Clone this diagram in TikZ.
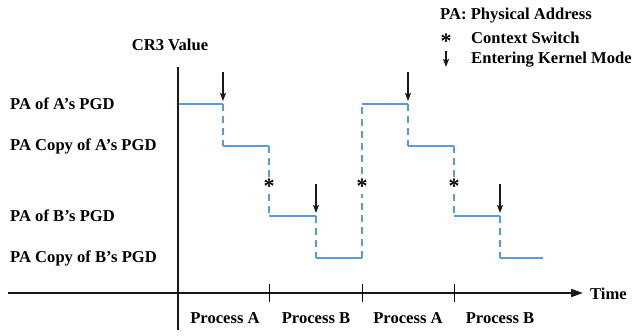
\documentclass[tikz,border=0pt]{standalone}
\usepackage{fontspec}
\setmainfont{Liberation Serif}
\usetikzlibrary{arrows.meta}
\definecolor{lblue}{RGB}{91,155,213}
\begin{document}
\begin{tikzpicture}[x=1pt,y=-1pt,
  lbl/.style={font=\fontsize{16.6}{18}\selectfont\bfseries, inner sep=0pt},
  lvl/.style={lbl, anchor=west},
  star/.style={font=\fontsize{22}{22}\selectfont\bfseries, inner sep=0pt},
  axis/.style={line width=2pt, black!90},
  solidseg/.style={line width=2.2pt, lblue},
  dashseg/.style={line width=2.2pt, lblue, dash pattern=on 7pt off 5pt},
  kern/.style={line width=1.2pt, black!90, -{Stealth[length=8pt,width=6pt,inset=1.5pt]}},
  tickm/.style={line width=0.9pt}]
\useasboundingbox (0,0) rectangle (634,335);
% axes
\coordinate (yt) at (178,67);
\coordinate (yb) at (178,330);
\coordinate (xl) at (8,293);
\coordinate (xr) at (583,293);
\draw[axis] (yt) -- (yb);
\draw[axis, -{Triangle[length=12pt,width=8pt]}] (xl) -- (xr);
% ticks
\foreach \x in {269,362,454} \draw[tickm] (\x,284) -- (\x,302);
% labels
\node[lbl] (cr3) at (170,45) {CR3 Value};
\node[lbl, anchor=west] (time) at (590,294) {Time};
\node[lvl] (la) at (10,104) {PA of A’s PGD};
\node[lvl] (lac) at (10,146) {PA Copy of A’s PGD};
\node[lvl] (lb) at (10,216) {PA of B’s PGD};
\node[lvl] (lbc) at (10,258) {PA Copy of B’s PGD};
\node[lbl] (p1) at (225,318) {Process A};
\node[lbl] (p2) at (316,318) {Process B};
\node[lbl] (p3) at (408,318) {Process A};
\node[lbl] (p4) at (500,318) {Process B};
% legend
\node[lbl, anchor=west] (lg1) at (440,16) {PA: Physical Address};
\node[star] (lgs) at (446,41) {*};
\node[lbl, anchor=west] (lg2) at (471,38) {Context Switch};
\coordinate (lga1) at (446,51);
\coordinate (lga2) at (446,67);
\draw[kern] (lga1) -- (lga2);
\node[lbl, anchor=west] (lg3) at (471,60) {Entering Kernel Mode};
% CR3 trace
\coordinate (s0) at (179,104);
\coordinate (a1) at (223,104); \coordinate (a2) at (223,146);
\coordinate (b1) at (269,146); \coordinate (b2) at (269,216);
\coordinate (c1) at (316,216); \coordinate (c2) at (316,258);
\coordinate (d1) at (362,258); \coordinate (d2) at (362,104);
\coordinate (e1) at (408,104); \coordinate (e2) at (408,146);
\coordinate (f1) at (454,146); \coordinate (f2) at (454,216);
\coordinate (g1) at (500,216); \coordinate (g2) at (500,258);
\coordinate (h) at (543,258);
\draw[solidseg] (s0) -- (a1);
\draw[dashseg] (a1) -- (a2);
\draw[solidseg] (a2) -- (b1);
\draw[dashseg] (b1) -- (b2);
\draw[solidseg] (b2) -- (c1);
\draw[dashseg] (c1) -- (c2);
\draw[solidseg] (c2) -- (d1);
\draw[dashseg] (d1) -- (d2);
\draw[solidseg] (d2) -- (e1);
\draw[dashseg] (e1) -- (e2);
\draw[solidseg] (e2) -- (f1);
\draw[dashseg] (f1) -- (f2);
\draw[solidseg] (f2) -- (g1);
\draw[dashseg] (g1) -- (g2);
\draw[solidseg] (g2) -- (h);
% kernel arrows
\foreach \n/\x/\y in {k1/223/101,k2/316/213,k3/408/101,k4/500/213}{
  \coordinate (\n t) at (\x,\y-29);
  \coordinate (\n h) at (\x,\y);
  \draw[kern] (\n t) -- (\n h);
}
% context switch stars
\foreach \n/\x in {cs1/269,cs2/362,cs3/454}
  \node[star, fill=white, inner sep=0.5pt] (\n) at (\x,186) {*};
\end{tikzpicture}
\end{document}
